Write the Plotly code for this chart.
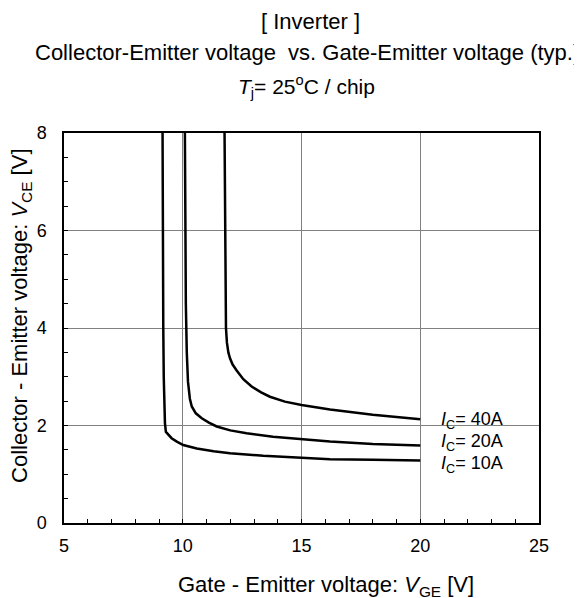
import plotly.graph_objects as go

# Data (VGE [V], VCE [V])
vge_10a = [9.15, 9.15, 9.16, 9.18, 9.20, 9.22, 9.25, 9.29, 9.40, 9.53, 9.75, 10.02, 10.59, 11.3, 11.99, 13.39, 15.0, 16.2, 18.0, 20.0]
vce_10a = [8.0, 6.0, 5.0, 4.0, 3.0, 2.3, 2.05, 1.87, 1.80, 1.74, 1.67, 1.60, 1.53, 1.47, 1.43, 1.38, 1.34, 1.31, 1.30, 1.28]

vge_20a = [10.09, 10.10, 10.13, 10.17, 10.22, 10.30, 10.38, 10.55, 10.8, 11.1, 11.43, 12.0, 12.69, 13.8, 15.0, 16.2, 18.0, 20.0]
vce_20a = [8.0, 6.0, 4.5, 3.5, 2.9, 2.55, 2.39, 2.25, 2.15, 2.06, 1.98, 1.90, 1.84, 1.77, 1.72, 1.67, 1.62, 1.59]

vge_40a = [11.76, 11.78, 11.80, 11.82, 11.86, 11.92, 11.99, 12.10, 12.27, 12.55, 12.9, 13.3, 13.67, 14.3, 15.0, 16.2, 18.0, 20.0]
vce_40a = [8.0, 6.0, 5.0, 4.0, 3.7, 3.5, 3.38, 3.25, 3.13, 2.95, 2.80, 2.68, 2.59, 2.49, 2.42, 2.33, 2.22, 2.13]

labels = ["<i>I</i><sub>C</sub>= 40A", "<i>I</i><sub>C</sub>= 20A", "<i>I</i><sub>C</sub>= 10A"]
label_y = [2.10, 1.66, 1.21]
label_x = 20.8

x_ticks = [5, 10, 15, 20, 25]
y_ticks = [0, 2, 4, 6, 8]

FONT = "Arial, Liberation Sans, sans-serif"

fig = go.Figure()
for xs, ys in [(vge_10a, vce_10a), (vge_20a, vce_20a), (vge_40a, vce_40a)]:
    fig.add_trace(go.Scatter(x=xs, y=ys, mode="lines",
                             line=dict(color="black", width=2.5),
                             showlegend=False, hoverinfo="skip"))

for txt, yy in zip(labels, label_y):
    fig.add_annotation(x=label_x, y=yy, xref="x", yref="y",
                       text=txt, showarrow=False,
                       xanchor="left", yanchor="middle",
                       font=dict(family=FONT, size=18, color="black"))

# Titles
titles = [
    ("[ Inverter ]", 0.518, 112, 22),
    ("Collector-Emitter voltage  vs. Gate-Emitter voltage (typ.)", 0.512, 81, 22),
    ("<i>T</i><sub>j</sub>= 25<sup>o</sup>C / chip", 0.51, 47, 21),
]
for txt, xx, ys, fs in titles:
    fig.add_annotation(x=xx, y=1, xref="paper", yref="paper", text=txt,
                       showarrow=False, xanchor="center", yanchor="middle",
                       yshift=ys, font=dict(family=FONT, size=fs, color="black"))

fig.add_annotation(x=0, y=0.531, xref="paper", yref="paper",
                   text="Collector - Emitter voltage: <i>V</i><sub>CE</sub> [V]",
                   textangle=-90, showarrow=False, xanchor="center", yanchor="middle",
                   xshift=-43, font=dict(family=FONT, size=22, color="black"))
fig.add_annotation(x=0.552, y=0, xref="paper", yref="paper",
                   text="Gate - Emitter voltage: <i>V</i><sub>GE</sub> [V]",
                   showarrow=False, xanchor="center", yanchor="middle",
                   yshift=-63, font=dict(family=FONT, size=22, color="black"))

axis_common = dict(showline=True, linecolor="black", linewidth=1.5, mirror=True,
                   showgrid=True, gridcolor="#808080", gridwidth=1,
                   ticks="inside", ticklen=4, tickcolor="black", zeroline=False,
                   tickfont=dict(family=FONT, size=18, color="black"))

fig.update_xaxes(range=[5, 25], tickvals=x_ticks, ticktext=[str(v) for v in x_ticks],
                 minor=dict(dtick=1, ticks="inside", ticklen=4, tickcolor="black", showgrid=False),
                 ticklabelstandoff=6, **axis_common)
fig.update_yaxes(range=[0, 8], tickvals=y_ticks, ticktext=[str(v) for v in y_ticks],
                 minor=dict(dtick=0.5, ticks="inside", ticklen=4, tickcolor="black", showgrid=False),
                 ticklabelstandoff=12, **axis_common)

# page body has an 8px margin, so the figure is sized/offset to compensate
fig.update_layout(width=574, height=590,
                  margin=dict(l=56, r=43, t=125, b=75),
                  paper_bgcolor="white", plot_bgcolor="white",
                  font=dict(family=FONT, size=18, color="black"))

fig.write_html("out.html")
